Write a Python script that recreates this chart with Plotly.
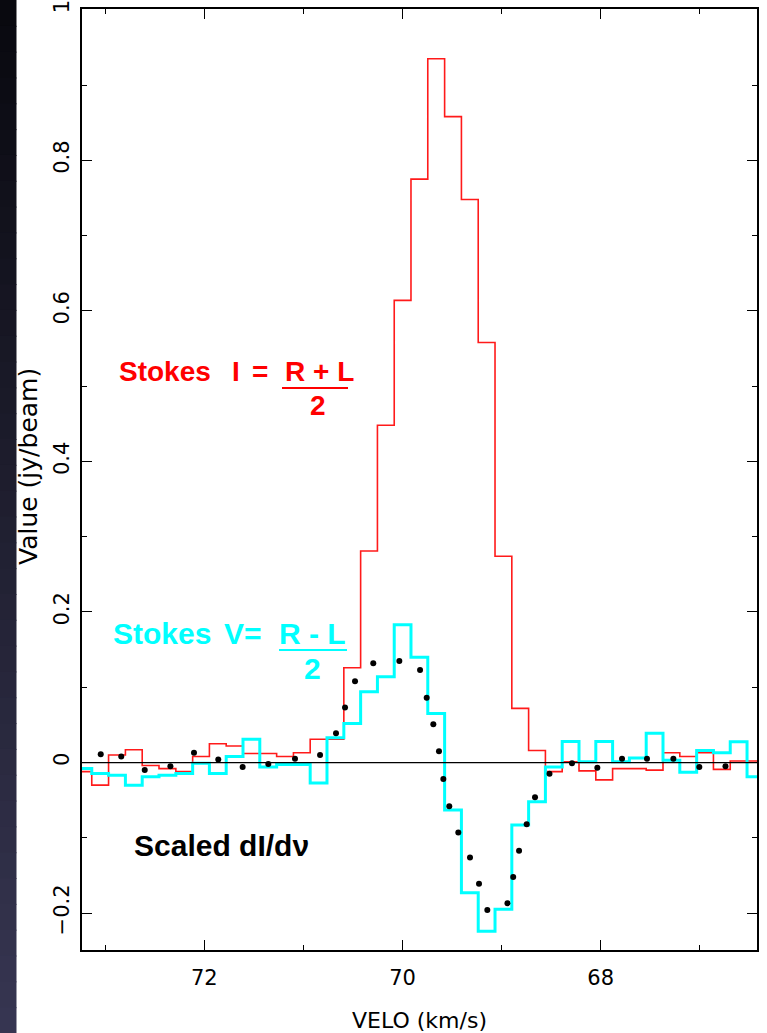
import plotly.graph_objects as go

# ---------------- data ----------------
velocity = [73.220, 73.051, 72.881, 72.711, 72.542, 72.372, 72.202, 72.033, 71.864, 71.694,
            71.525, 71.355, 71.185, 71.016, 70.847, 70.677, 70.507, 70.338, 70.168, 69.999,
            69.830, 69.660, 69.490, 69.321, 69.151, 68.982, 68.812, 68.643, 68.473, 68.304,
            68.134, 67.965, 67.795, 67.626, 67.456, 67.287, 67.117, 66.947, 66.778, 66.608,
            66.439]

stokes_i = [-0.012, -0.030, 0.010, 0.017, -0.004, -0.008, -0.012, 0.008, 0.025, 0.022,
            0.012, 0.012, 0.008, 0.013, 0.031, 0.031, 0.126, 0.281, 0.448, 0.614,
            0.775, 0.935, 0.858, 0.748, 0.558, 0.274, 0.072, 0.016, -0.012, 0.001,
            -0.011, -0.023, -0.008, -0.008, -0.010, 0.013, 0.008, 0.013, -0.009, 0.002,
            0.002]

stokes_v = [-0.008, -0.0145, -0.017, -0.030, -0.019, -0.017, -0.0145, -0.001, -0.0145, 0.008,
            0.031, -0.006, -0.0025, -0.0025, -0.027, 0.033, 0.052, 0.094, 0.114, 0.183,
            0.140, 0.065, -0.063, -0.173, -0.224, -0.195, -0.083, -0.052, -0.006, 0.028,
            0.001, 0.028, 0.001, 0.006, 0.039, 0.003, -0.013, 0.016, 0.013, 0.0275,
            -0.019]

didv_velocity = [73.045, 72.838, 72.601, 72.342, 72.104, 71.859, 71.613, 71.354, 71.085, 70.832,
                 70.671, 70.580, 70.479, 70.295, 70.032, 69.823, 69.756, 69.689, 69.632, 69.588,
                 69.528, 69.437, 69.319, 69.228, 69.144, 68.941, 68.883, 68.824, 68.747, 68.663,
                 68.517, 68.290, 68.034, 67.785, 67.533, 67.267, 67.005, 66.741]
didv_scaled = [0.011, 0.008, -0.010, -0.005, 0.013, 0.004, -0.006, -0.002, 0.005, 0.010,
               0.039, 0.073, 0.108, 0.132, 0.135, 0.123, 0.086, 0.051, 0.015, -0.022,
               -0.058, -0.093, -0.126, -0.161, -0.196, -0.187, -0.152, -0.117, -0.082, -0.046,
               -0.015, -0.001, -0.007, 0.005, 0.005, 0.005, -0.006, -0.005]

x_ticks = [72, 70, 68]
y_ticks = [-0.2, 0, 0.2, 0.4, 0.6, 0.8, 1]
y_tick_text = ["\u22120.2", "0", "0.2", "0.4", "0.6", "0.8", "1"]


# ---------------- helpers ----------------
def channel_edges(c):
    mids = [(a + b) / 2 for a, b in zip(c[:-1], c[1:])]
    return [2 * c[0] - mids[0]] + mids + [2 * c[-1] - mids[-1]]


def step_xy(c, vals):
    return channel_edges(c), list(vals) + [vals[-1]]


W, H = 767, 1033
L, R, T, B = 82, 757, 9, 950


def px(x):
    return (x - L) / (R - L)


def py(y):
    return (B - y) / (B - T)


fig = go.Figure()

xs, ys = step_xy(velocity, stokes_i)
fig.add_trace(go.Scatter(x=xs, y=ys, mode="lines", line_shape="hv",
                         line=dict(color="#ff1a1a", width=1.6), name="Stokes I",
                         hoverinfo="skip"))
xs, ys = step_xy(velocity, stokes_v)
fig.add_trace(go.Scatter(x=xs, y=ys, mode="lines", line_shape="hv",
                         line=dict(color="#00ffff", width=3), name="Stokes V",
                         hoverinfo="skip"))
fig.add_trace(go.Scatter(x=didv_velocity, y=didv_scaled, mode="markers",
                         marker=dict(color="black", size=6, symbol="circle"),
                         name="Scaled dI/dv", hoverinfo="skip"))

shapes = []
# dark gradient strip at the left edge
n = 40
c0 = (8, 8, 14)
c1 = (55, 54, 82)
for k in range(n):
    t = (k + 0.5) / n
    col = tuple(int(round(a + (b - a) * t)) for a, b in zip(c0, c1))
    shapes.append(dict(type="rect", xref="paper", yref="paper",
                       x0=px(0), x1=px(16.5),
                       y0=py(H * (k + 1) / n + 1), y1=py(H * k / n),
                       fillcolor="rgb(%d,%d,%d)" % col, line=dict(width=0), layer="below"))
# zero line
shapes.append(dict(type="line", xref="paper", yref="y", x0=0, x1=1, y0=0, y1=0,
                   line=dict(color="black", width=1.3), layer="above"))
# fraction bars
shapes.append(dict(type="line", xref="paper", yref="paper", x0=px(282), x1=px(348),
                   y0=py(388), y1=py(388), line=dict(color="#ff0000", width=2.2)))
shapes.append(dict(type="line", xref="paper", yref="paper", x0=px(279), x1=px(347),
                   y0=py(650), y1=py(650), line=dict(color="#00ffff", width=2.2)))

BF = "Liberation Sans, Arial, sans-serif"
TF = "DejaVu Sans, Verdana, sans-serif"


def ann(text, x, y, color, size):
    return dict(text="<b>%s</b>" % text, xref="paper", yref="paper", x=px(x), y=py(y),
                xanchor="center", yanchor="middle", showarrow=False,
                font=dict(family=BF, size=size, color=color))


annotations = [
    ann("Stokes", 164.5, 371, "#ff0000", 28),
    ann("I", 235.5, 371, "#ff0000", 28),
    ann("=", 259.5, 371, "#ff0000", 28),
    ann("R + L", 319.5, 371, "#ff0000", 28),
    ann("2", 317.5, 405, "#ff0000", 28),
    ann("Stokes", 162, 633, "#00ffff", 30),
    ann("V=", 242.5, 633, "#00ffff", 30),
    ann("R - L", 312, 633, "#00ffff", 30),
    ann("2", 312.5, 669, "#00ffff", 30),
    ann("Scaled dI/dν", 221.7, 845, "black", 30),
    # y-axis title
    dict(text="Value (jy/beam)", xref="paper", yref="paper", x=px(28), y=py(467),
         xanchor="center", yanchor="middle", showarrow=False, textangle=-90,
         font=dict(family=TF, size=25, color="black")),
]

fig.update_layout(
    width=W, height=H,
    margin=dict(l=L, r=W - R, t=T, b=H - B, autoexpand=False),
    paper_bgcolor="white", plot_bgcolor="white",
    showlegend=False,
    shapes=shapes,
    annotations=annotations,
    font=dict(family=TF, color="black"),
)
fig.update_xaxes(
    range=[73.234, 66.423], tickvals=x_ticks, ticktext=[str(v) for v in x_ticks],
    ticks="inside", ticklen=10, tickwidth=1.3, tickcolor="black",
    minor=dict(dtick=1, tick0=0, ticks="inside", ticklen=5, tickwidth=1.3, tickcolor="black"),
    showline=True, linecolor="black", linewidth=1.5, mirror="ticks",
    showgrid=False, zeroline=False, ticklabelstandoff=8, automargin=False,
    ticklabeloverflow="allow",
    tickfont=dict(family=TF, size=21, color="black"),
    title=dict(text="VELO (km/s)", font=dict(family=TF, size=22, color="black"), standoff=24),
)
fig.update_yaxes(
    range=[-0.249, 1.001], tickvals=y_ticks, ticktext=y_tick_text,
    ticks="inside", ticklen=10, tickwidth=1.3, tickcolor="black",
    minor=dict(dtick=0.1, tick0=0, ticks="inside", ticklen=5, tickwidth=1.3, tickcolor="black"),
    showline=True, linecolor="black", linewidth=1.5, mirror="ticks",
    showgrid=False, zeroline=False, tickangle=-90, ticklabelstandoff=3, automargin=False,
    ticklabeloverflow="allow",
    tickfont=dict(family=TF, size=21, color="black"),
)

fig.write_html("out.html")
